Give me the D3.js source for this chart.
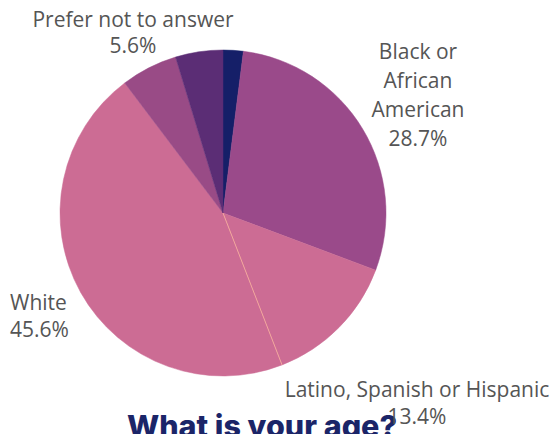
<!DOCTYPE html>
<html>
<head>
<meta charset="utf-8">
<script src="https://cdn.jsdelivr.net/npm/d3@7"></script>
<style>
  html, body { margin: 0; padding: 0; background: #fff; }
  svg { display: block; }
</style>
</head>
<body>
<svg id="chart" width="555" height="434"></svg>
<script>
// Survey responses by race / ethnicity (percent), clockwise from 12 o'clock
const categories = ["Other", "Black or African American", "Latino, Spanish or Hispanic", "White", "Prefer not to answer", "Asian"];
const values = [2.0, 28.7, 13.4, 45.6, 5.6, 4.7];
const colors = ["#151f68", "#9a4a8a", "#cc6c94", "#cc6c94", "#994b86", "#5b2d75"];
// Label text lines per slice (empty = slice is not labelled)
const labelLines = [
  [],
  ["Black or", "African", "American", "28.7%"],
  ["Latino, Spanish or Hispanic", "13.4%"],
  ["White", "45.6%"],
  ["Prefer not to answer", "5.6%"],
  []
];
const title = "What is your age?";

const svg = d3.select("#chart");
const cx = 223, cy = 213, radius = 163;

const pie = d3.pie().sort(null).value(d => d.value);
const data = categories.map((c, i) => ({ name: c, value: values[i], color: colors[i], lines: labelLines[i] }));
const arcs = pie(data);
const arc = d3.arc().innerRadius(0).outerRadius(radius);

const g = svg.append("g").attr("transform", `translate(${cx},${cy})`);

g.selectAll("path.slice")
  .data(arcs)
  .enter().append("path")
  .attr("class", "slice")
  .attr("d", arc)
  .attr("fill", d => d.data.color)
  .attr("stroke", d => d.data.color)
  .attr("stroke-width", 0.5);

// Fine separator between the two same-coloured slices
const sep = arcs[2].endAngle;
g.append("line")
  .attr("x1", 0).attr("y1", 0)
  .attr("x2", radius * Math.sin(sep))
  .attr("y2", -radius * Math.cos(sep))
  .attr("stroke", "#f2a79c")
  .attr("stroke-width", 1);

// Title (sits below the pie, running off the bottom edge)
svg.append("text")
  .attr("x", 262)
  .attr("y", 437)
  .attr("text-anchor", "middle")
  .attr("font-family", "Inter, 'Open Sans', sans-serif")
  .attr("font-weight", 800)
  .attr("font-size", 30.5)
  .attr("fill", "#1b2568")
  .text(title);

// Slice labels
const labelPos = {
  "Black or African American": { x: 418, y: 59, anchor: "middle", dy: 29 },
  "Latino, Spanish or Hispanic": { x: 417, y: 397, anchor: "middle", dy: 27 },
  "White": { x: 10, y: 310, anchor: "start", dy: 27 },
  "Prefer not to answer": { x: 133, y: 27, anchor: "middle", dy: 26 }
};

arcs.filter(d => d.data.lines.length).forEach(d => {
  const p = labelPos[d.data.name];
  const t = svg.append("text")
    .attr("font-family", "'Open Sans', sans-serif")
    .attr("font-size", 21)
    .attr("fill", "#555")
    .attr("text-anchor", p.anchor);
  d.data.lines.forEach((line, i) => {
    t.append("tspan").attr("x", p.x).attr("y", p.y + i * p.dy).text(line);
  });
});
</script>
</body>
</html>
